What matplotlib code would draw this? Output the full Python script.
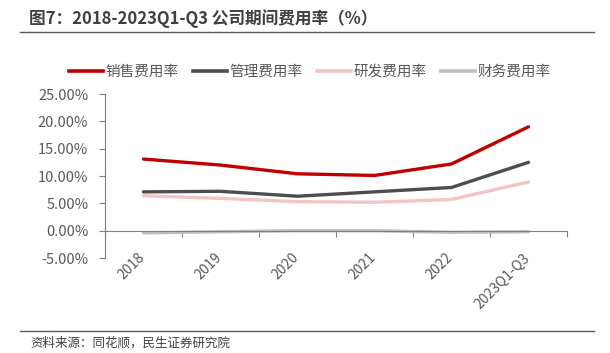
import matplotlib
matplotlib.use("Agg")
import matplotlib.pyplot as plt
import matplotlib.ticker as mticker
from matplotlib.lines import Line2D
from matplotlib.transforms import ScaledTranslation

plt.rcParams['font.family'] = ['Noto Sans CJK SC', 'DejaVu Sans']

categories = ["2018", "2019", "2020", "2021", "2022", "2023Q1-Q3"]
sales = [13.1, 12.0, 10.4, 10.1, 12.2, 19.0]
admin = [7.1, 7.2, 6.3, 7.1, 7.9, 12.5]
rnd = [6.4, 5.9, 5.3, 5.2, 5.7, 8.9]
finance = [-0.4, -0.2, 0.0, 0.0, -0.3, -0.2]

series = [
    ("销售费用率", sales, "#C00000"),
    ("管理费用率", admin, "#4D4D4F"),
    ("研发费用率", rnd, "#F2C4C6"),
    ("财务费用率", finance, "#BFBFBF"),
]

text_color = "#595959"

fig = plt.figure(figsize=(6.10, 3.53), dpi=100)
ax = fig.add_axes([105 / 610, (353 - 258) / 353, (567 - 105) / 610, (258 - 94) / 353])

x = list(range(len(categories)))
for name, vals, color in series:
    ax.plot(x, vals, color=color, linewidth=2.4, label=name, solid_capstyle="round")

ax.set_xlim(-0.5, len(categories) - 0.5)
ax.set_ylim(-5, 25)
ax.set_yticks([-5, 0, 5, 10, 15, 20, 25])
ax.yaxis.set_major_formatter(mticker.FuncFormatter(lambda v, p: f"{v:.2f}%"))

for s in ["top", "right"]:
    ax.spines[s].set_visible(False)
ax.spines["left"].set_color("#7F7F7F")
ax.spines["bottom"].set_color("#7F7F7F")
ax.spines["bottom"].set_position(("data", 0))

# tick marks at category boundaries, labels drawn separately below the zero line
ax.set_xticks([i - 0.5 for i in range(len(categories) + 1)])
ax.set_xticklabels([])
ax.tick_params(axis="x", which="major", direction="out", length=4, color="#7F7F7F")
ax.tick_params(axis="y", direction="out", length=4, color="#7F7F7F", labelsize=10.5, labelcolor=text_color, pad=8)

offset = ScaledTranslation(-6 / 100, -20 / 100, fig.dpi_scale_trans)
for i, cat in enumerate(categories):
    ax.text(i, 0, cat, rotation=45, rotation_mode="anchor", ha="right", va="top",
            fontsize=10, color=text_color, transform=ax.transData + offset)

# title and rules
fig.text(29 / 610, 1 - 19 / 353, "图7：2018-2023Q1-Q3 公司期间费用率（%）", fontsize=12, fontweight="bold",
         color="#404040", va="center", ha="left")
fig.add_artist(Line2D([20 / 610, 594 / 610], [1 - 32 / 353, 1 - 32 / 353], color="#595959", linewidth=1.0))
fig.add_artist(Line2D([20 / 610, 594 / 610], [1 - 331 / 353, 1 - 331 / 353], color="#595959", linewidth=1.0))
fig.text(30 / 610, 1 - 343 / 353, "资料来源：同花顺，民生证券研究院", fontsize=9, color="#404040", va="center", ha="left")

handles = [Line2D([0], [0], color=c, linewidth=2.6) for _, _, c in series]
fig.legend(handles, [n for n, _, _ in series], loc="center", bbox_to_anchor=(310 / 610, 1 - 72 / 353), ncol=4,
           frameon=False, fontsize=10.5, handlelength=2.3, handletextpad=0.2, columnspacing=1.0,
           labelcolor=text_color)

fig.savefig("out.png", dpi=100)
